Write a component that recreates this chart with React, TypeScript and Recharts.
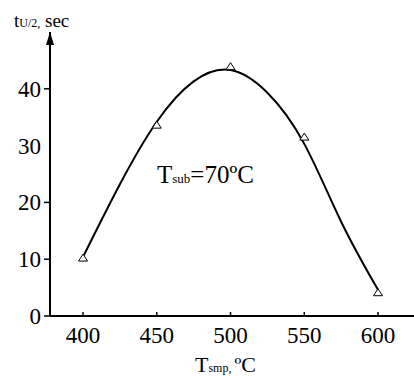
import React from 'react';
import { ComposedChart, Line, Scatter, XAxis, YAxis, Customized } from 'recharts';

// fitted curve
const curveTemp = [400, 425, 450, 475, 500, 525, 550, 575, 600];
const curveTime = [10.4, 23.2, 34.2, 41.3, 43.3, 39.3, 30.3, 16.6, 4.6];

// measured points (triangles)
const pointTemp = [400, 450, 500, 550, 600];
const pointTime = [10.2, 33.6, 43.9, 31.5, 4.1];

const xTicks = [400, 450, 500, 550, 600];
const yTicks = [0, 10, 20, 30, 40];

const curve = curveTemp.map((t, i) => ({ temp: t, time: curveTime[i] }));
const points = pointTemp.map((t, i) => ({ temp: t, time: pointTime[i] }));

const FONT = "'Liberation Serif', 'DejaVu Serif', serif";
const serif = { fontFamily: FONT };

const XTick = (props: any) => {
  const { x, y, payload } = props;
  return (
    <g>
      <line x1={x} x2={x} y1={y} y2={y - 4} stroke="#000" strokeWidth={1.5} />
      <text x={x} y={y + 27} textAnchor="middle" style={serif} fontSize={23} fill="#000">
        {payload.value}
      </text>
    </g>
  );
};

const YTick = (props: any) => {
  const { x, y, payload } = props;
  return (
    <g>
      {payload.value !== 30 && (
        <line x1={x - 6} x2={x} y1={y} y2={y} stroke="#000" strokeWidth={1.5} />
      )}
      <text x={x - 9} y={y + 8} textAnchor="end" style={serif} fontSize={23} fill="#000">
        {payload.value}
      </text>
    </g>
  );
};

const Triangle = (props: any) => {
  const { cx, cy } = props;
  return (
    <polygon
      points={`${cx},${cy - 4} ${cx - 4.5},${cy + 3} ${cx + 4.5},${cy + 3}`}
      fill="#fff"
      stroke="#000"
      strokeWidth={1}
    />
  );
};

const Labels = () => (
  <g style={serif} fill="#000">
    <polygon points="50,32 46,45 54,45" fill="#000" />
    <text x={14} y={27} fontSize={19} style={serif}>
      t<tspan fontSize={12}>U/2,</tspan> sec
    </text>
    <text x={157} y={183} fontSize={25} style={serif}>
      T<tspan fontSize={13}>sub</tspan>=70ºC
    </text>
    <text x={195} y={372} fontSize={22} style={serif}>
      T<tspan fontSize={12}>smp, </tspan>ºC
    </text>
  </g>
);

export default function App() {
  return (
    <div style={{ position: 'absolute', left: 0, top: 0, width: 414, height: 376, background: '#fff' }}>
      <ComposedChart width={414} height={376} margin={{ top: 32, right: 0, bottom: 0, left: 0 }}>
        <XAxis
          dataKey="temp"
          type="number"
          domain={[377.6, 624.4]}
          ticks={xTicks}
          allowDataOverflow
          height={60}
          axisLine={{ stroke: '#000', strokeWidth: 2 }}
          tickLine={false}
          tickSize={0}
          tickMargin={0}
          tick={<XTick />}
        />
        <YAxis
          dataKey="time"
          type="number"
          domain={[0, 50]}
          ticks={yTicks}
          allowDataOverflow
          width={50}
          axisLine={{ stroke: '#000', strokeWidth: 2 }}
          tickLine={false}
          tickSize={0}
          tickMargin={0}
          tick={<YTick />}
        />
        <Line
          data={curve}
          dataKey="time"
          type="natural"
          stroke="#000"
          strokeWidth={2}
          dot={false}
          activeDot={false}
          isAnimationActive={false}
        />
        <Scatter data={points} dataKey="time" shape={<Triangle />} isAnimationActive={false} />
        <Customized component={Labels} />
      </ComposedChart>
    </div>
  );
}
